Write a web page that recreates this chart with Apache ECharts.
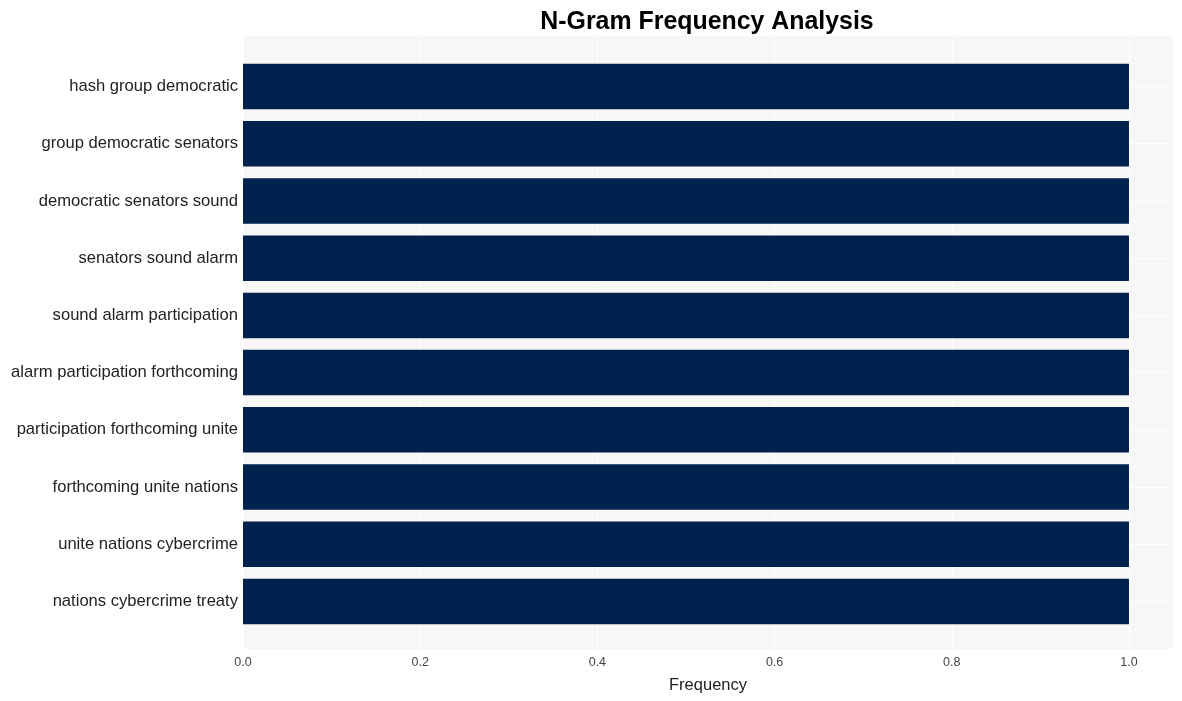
<!DOCTYPE html>
<html><head><meta charset="utf-8">
<script src="https://cdn.jsdelivr.net/npm/echarts@6/dist/echarts.min.js"></script>
<style>html,body{margin:0;padding:0;background:#fff}#c{width:1182px;height:701px}</style>
</head><body><div id="c"></div>
<script>
const categories = [
  "hash group democratic",
  "group democratic senators",
  "democratic senators sound",
  "senators sound alarm",
  "sound alarm participation",
  "alarm participation forthcoming",
  "participation forthcoming unite",
  "forthcoming unite nations",
  "unite nations cybercrime",
  "nations cybercrime treaty"
];
const values = [1, 1, 1, 1, 1, 1, 1, 1, 1, 1];
const xTicks = [0, 0.2, 0.4, 0.6, 0.8, 1.0];

const chart = echarts.init(document.getElementById('c'));
const font = 'Liberation Sans, Arial, sans-serif';
const plotLeft = 243, plotTop = 36, plotW = 930, plotH = 613;
const innerTop = 86.5, innerH = 515;
const xMax = 1.0497;

chart.setOption({
  animation: false,
  title: {
    text: 'N-Gram Frequency Analysis',
    left: 702, top: 5, textAlign: 'center',
    textStyle: {fontFamily: font, fontSize: 24.9, fontWeight: 'bold', color: '#000'}
  },
  grid: [
    {left: plotLeft, top: plotTop, width: plotW, height: plotH, show: true,
     backgroundColor: '#f7f7f7', borderWidth: 0, containLabel: false},
    {left: plotLeft, top: innerTop, width: plotW, height: innerH, containLabel: false}
  ],
  xAxis: [
    {type: 'value', gridIndex: 0, min: 0, max: xMax, interval: 0.2,
     axisLine: {show: false}, axisTick: {show: false},
     axisLabel: {fontFamily: font, fontSize: 12.5, color: '#444', margin: 7,
       formatter: v => xTicks.some(t => Math.abs(t - v) < 1e-9) ? v.toFixed(1) : '',
       showMaxLabel: false},
     splitLine: {show: true, lineStyle: {color: '#ffffff', width: 1}},
     name: 'Frequency', nameLocation: 'middle', nameGap: 28,
     nameTextStyle: {fontFamily: font, fontSize: 16.5, color: '#222'}},
    {type: 'value', gridIndex: 1, min: 0, max: xMax, show: false,
     splitLine: {show: false}}
  ],
  yAxis: [
    {type: 'value', gridIndex: 0, min: 0, max: 1, show: false, splitLine: {show: false}},
    {type: 'category', gridIndex: 1, data: categories, inverse: true, boundaryGap: false,
     axisLine: {show: false}, axisTick: {show: false},
     axisLabel: {fontFamily: font, fontSize: 16.6, color: '#222', margin: 5},
     splitLine: {show: true, lineStyle: {color: '#ffffff', width: 1}}}
  ],
  series: [{
    type: 'bar', xAxisIndex: 1, yAxisIndex: 1, data: values,
    barWidth: 45.5, clip: false,
    itemStyle: {color: '#00224f'}
  }]
});
</script></body></html>
